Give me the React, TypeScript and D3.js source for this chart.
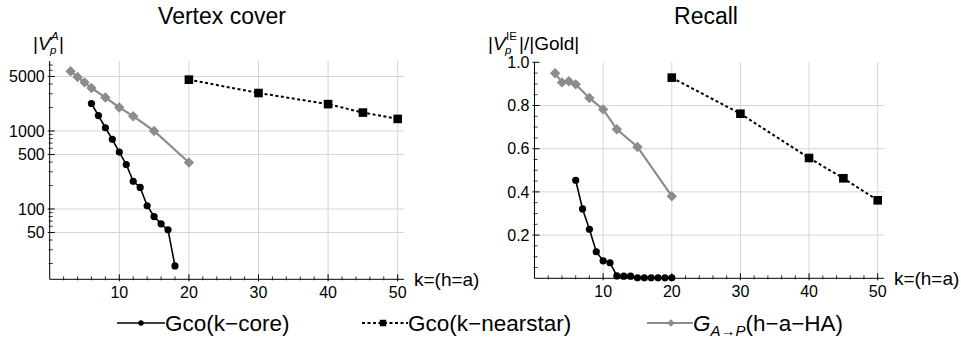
import React from "react";
import * as d3 from "d3";

// ---------- data ----------
const kcoreX = [6, 7, 8, 9, 10, 11, 12, 13, 14, 15, 16, 17, 18];
const kcoreVC = [2250, 1575, 1100, 782, 536, 372, 226, 189, 110, 80, 64.5, 54, 18.6];
const nearstarX = [20, 30, 40, 45, 50];
const nearstarVC = [4550, 3065, 2210, 1722, 1428];
const haX = [3, 4, 5, 6, 8, 10, 12, 15, 20];
const haVC = [5823, 4930, 4200, 3556, 2690, 2000, 1548, 1000, 394];

const kcoreRecallX = [6, 7, 8, 9, 10, 11, 12, 13, 14, 15, 16, 17, 18, 19, 20];
const kcoreRecall = [0.454, 0.321, 0.227, 0.123, 0.081, 0.072, 0.011, 0.01, 0.01, 0.002, 0.002, 0.002, 0.002, 0.002, 0.002];
const nearstarRecall = [0.929, 0.762, 0.557, 0.463, 0.361];
const haRecall = [0.949, 0.907, 0.912, 0.898, 0.835, 0.782, 0.69, 0.608, 0.38];

const xTicks = [10, 20, 30, 40, 50];
const vcTicks = [50, 100, 500, 1000, 5000];
const recallTicks = [0.2, 0.4, 0.6, 0.8, 1.0];

const FONT = "'Liberation Sans', Arial, Helvetica, sans-serif";
const GRAY = "#8c8c8c";
const GRID = "#d6d6d6";

type Series = { xs: number[]; ys: number[] };

function Marker({ kind, x, y, s = 1 }: { kind: string; x: number; y: number; s?: number }) {
  if (kind === "circle") return <circle cx={x} cy={y} r={3.6 * s} fill="#000" />;
  if (kind === "square") {
    const h = 4.3 * s;
    return <rect x={x - h} y={y - h} width={2 * h} height={2 * h} fill="#000" />;
  }
  const h = 5.2 * s;
  return <path d={`M${x},${y - h}L${x + h},${y}L${x},${y + h}L${x - h},${y}Z`} fill={GRAY} />;
}

function Panel(props: {
  title: string;
  titleX: number;
  x0: number;
  x50: number;
  yScale: any;
  yTop: number;
  yBottom: number;
  ticks: number[];
  tickFmt: (v: number) => string;
  minorTicks: number[];
  gridTicks: number[];
  kcore: Series;
  nearstar: Series;
  ha: Series;
  ylabel: React.ReactNode;
}) {
  const x = d3.scaleLinear().domain([0, 50]).range([props.x0, props.x50]);
  const y = props.yScale;
  const xEnd = x(50.9);
  const xAxisY = props.yBottom;
  const line = (s: Series) =>
    d3.line<number>().x((_, i) => x(s.xs[i])).y((d) => y(d))(s.ys) || "";
  const xMinor = d3.range(2, 51, 2).filter((v) => v % 10 !== 0);
  return (
    <g>
      <text x={props.titleX} y={24} textAnchor="middle" fontSize={23} fontFamily={FONT}>
        {props.title}
      </text>
      {props.ylabel}
      {/* grid */}
      {xTicks.map((t) => (
        <line key={"gx" + t} x1={x(t)} x2={x(t)} y1={props.yTop} y2={xAxisY} stroke={GRID} strokeWidth={1} />
      ))}
      {props.gridTicks.map((t) => (
        <line key={"gy" + t} x1={x(0)} x2={xEnd} y1={y(t)} y2={y(t)} stroke={GRID} strokeWidth={1} />
      ))}
      {/* axes */}
      <line x1={x(0)} x2={xEnd} y1={xAxisY} y2={xAxisY} stroke="#000" strokeWidth={1} />
      <line x1={x(0)} x2={x(0)} y1={props.yTop} y2={xAxisY} stroke="#000" strokeWidth={1} />
      {xTicks.map((t) => (
        <g key={"xt" + t}>
          <line x1={x(t)} x2={x(t)} y1={xAxisY - 5} y2={xAxisY + 2} stroke="#000" strokeWidth={1} />
          <text x={x(t)} y={xAxisY + 19} textAnchor="middle" fontSize={16} fontFamily={FONT}>
            {t}
          </text>
        </g>
      ))}
      {xMinor.map((t) => (
        <line key={"xm" + t} x1={x(t)} x2={x(t)} y1={xAxisY - 3} y2={xAxisY + 1} stroke="#000" strokeWidth={0.8} />
      ))}
      {props.ticks.map((t) => (
        <g key={"yt" + t}>
          <line x1={x(0) - 2} x2={x(0) + 5} y1={y(t)} y2={y(t)} stroke="#000" strokeWidth={1} />
          <text x={x(0) - 5} y={y(t)} dy="0.36em" textAnchor="end" fontSize={16} fontFamily={FONT}>
            {props.tickFmt(t)}
          </text>
        </g>
      ))}
      {props.minorTicks.map((t) => (
        <line key={"ym" + t} x1={x(0) - 1} x2={x(0) + 3} y1={y(t)} y2={y(t)} stroke="#000" strokeWidth={0.8} />
      ))}
      <text x={xEnd + 10} y={xAxisY + 7} fontSize={19} fontFamily={FONT}>
        k=(h=a)
      </text>
      {/* series */}
      <path d={line(props.ha)} fill="none" stroke={GRAY} strokeWidth={2.2} />
      {props.ha.xs.map((v, i) => (
        <Marker key={"h" + i} kind="diamond" x={x(v)} y={y(props.ha.ys[i])} />
      ))}
      <path d={line(props.kcore)} fill="none" stroke="#000" strokeWidth={1.6} />
      {props.kcore.xs.map((v, i) => (
        <Marker key={"k" + i} kind="circle" x={x(v)} y={y(props.kcore.ys[i])} />
      ))}
      <path d={line(props.nearstar)} fill="none" stroke="#000" strokeWidth={2} strokeDasharray="3,2.5" />
      {props.nearstar.xs.map((v, i) => (
        <Marker key={"n" + i} kind="square" x={x(v)} y={y(props.nearstar.ys[i])} />
      ))}
    </g>
  );
}

export default function App() {
  const yLog = d3.scaleLog().domain([12.55, 7890]).range([279.3, 61]);
  const yLin = d3.scaleLinear().domain([0, 1]).range([278.3, 62.3]);
  const logMinor: number[] = [];
  [10, 100, 1000].forEach((dec) => {
    for (let m = 1; m <= 9; m++) {
      const v = m * dec;
      if (v >= 13 && v <= 7800 && !vcTicks.includes(v)) logMinor.push(v);
    }
  });
  const linMinor = d3.range(0.05, 1.0001, 0.05).filter((v) => Math.abs(v * 5 - Math.round(v * 5)) > 1e-6);

  // y-axis labels: main part, superscript and subscript as separate texts
  const leftLabel = (
    <g fontFamily={FONT}>
      <text x={33} y={50} fontSize={19}>
        |<tspan fontStyle="italic">V</tspan>
      </text>
      <text x={51} y={40} fontSize={11.5} fontStyle="italic">A</text>
      <text x={50} y={53.5} fontSize={11.5} fontStyle="italic">p</text>
      <text x={59} y={50} fontSize={19}>|</text>
    </g>
  );
  const rightLabel = (
    <g fontFamily={FONT}>
      <text x={488} y={50} fontSize={19}>
        |<tspan fontStyle="italic">V</tspan>
      </text>
      <text x={506} y={40} fontSize={11.5}>IE</text>
      <text x={505} y={53.5} fontSize={11.5} fontStyle="italic">p</text>
      <text x={519} y={50} fontSize={19}>|/|Gold|</text>
    </g>
  );

  const legendY = 323;
  return (
    <div style={{ position: "absolute", left: 0, top: 0 }}>
      <svg width={961} height={341} style={{ display: "block", background: "#fff" }}>
        <Panel
          title="Vertex cover"
          titleX={222}
          x0={49.7}
          x50={397.7}
          yScale={yLog}
          yTop={61}
          yBottom={279.3}
          ticks={vcTicks}
          tickFmt={(v) => String(v)}
          minorTicks={logMinor}
          gridTicks={vcTicks}
          kcore={{ xs: kcoreX, ys: kcoreVC }}
          nearstar={{ xs: nearstarX, ys: nearstarVC }}
          ha={{ xs: haX, ys: haVC }}
          ylabel={leftLabel}
        />
        <Panel
          title="Recall"
          titleX={706}
          x0={534.5}
          x50={877.7}
          yScale={yLin}
          yTop={62.3}
          yBottom={278.3}
          ticks={recallTicks}
          tickFmt={(v) => v.toFixed(1)}
          minorTicks={linMinor}
          gridTicks={[0.2, 0.4, 0.6, 0.8]}
          kcore={{ xs: kcoreRecallX, ys: kcoreRecall }}
          nearstar={{ xs: nearstarX, ys: nearstarRecall }}
          ha={{ xs: haX, ys: haRecall }}
          ylabel={rightLabel}
        />
        {/* legend */}
        <g fontFamily={FONT} fontSize={22.5}>
          <line x1={117} x2={165} y1={legendY} y2={legendY} stroke="#000" strokeWidth={1.6} />
          <Marker kind="circle" x={141} y={legendY} s={0.75} />
          <text x={165} y={legendY + 8}>Gco(k−core)</text>

          <line x1={362} x2={408} y1={legendY} y2={legendY} stroke="#000" strokeWidth={2} strokeDasharray="3,2.5" />
          <Marker kind="square" x={383} y={legendY} s={0.75} />
          <text x={408} y={legendY + 8}>Gco(k−nearstar)</text>

          <line x1={647} x2={693} y1={legendY} y2={legendY} stroke={GRAY} strokeWidth={2.2} />
          <Marker kind="diamond" x={671} y={legendY} s={0.7} />
          <text x={693} y={legendY + 8}>
            <tspan fontStyle="italic">G</tspan>
            <tspan fontStyle="italic" fontSize={15} dy={5}>A→P</tspan>
            <tspan dy={-5}>(h−a−HA)</tspan>
          </text>
        </g>
      </svg>
    </div>
  );
}
